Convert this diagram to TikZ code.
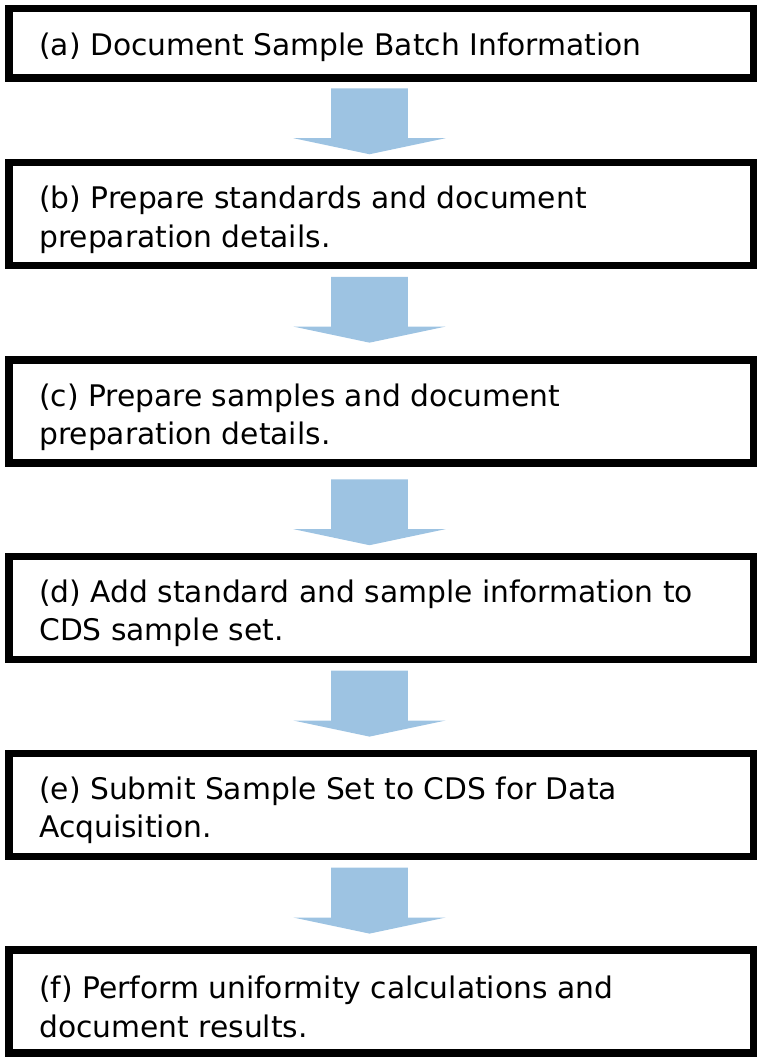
\documentclass[tikz,border=0pt]{standalone}
\usepackage{fontspec}
\setmainfont{DejaVu Sans}
\usetikzlibrary{calc}

\definecolor{arrowblue}{RGB}{157,195,226}

\tikzset{
  stepbox/.style={draw=black, line width=5.6pt, outer sep=0pt, inner sep=0pt,
    minimum width=558.6pt, minimum height=77.25pt},
  onelinebox/.style={stepbox, minimum height=51.9pt},
  steptext/.style={anchor=west, inner sep=0pt, align=left,
    font=\fontsize{22.3}{28.9}\selectfont},
  downarrow/.pic={
    \fill[arrowblue] (-38.3,0) -- (38.3,0) -- (38.3,-49.8) -- (76.2,-49.8) -- (0,-65.9) -- (-76.2,-49.8) -- (-38.3,-49.8) -- cycle;
  }
}

\begin{document}
\begin{tikzpicture}[x=0.75pt,y=0.75pt,yscale=-1,xscale=1]
\useasboundingbox (0,0) rectangle (763,1064);

% Step Boxes
\node[onelinebox] (stepA) at (381.2,43.35) {};
\node[stepbox] (stepB) at (381.2,214.15) {};
\node[stepbox] (stepC) at (381.2,411.6) {};
\node[stepbox] (stepD) at (381.2,608) {};
\node[stepbox] (stepE) at (381.2,805) {};
\node[stepbox] (stepF) at (381.2,1001.65) {};

% Text Node
\node[steptext] (textA) at ($(stepA.west)+(30.2,3.5)$) {(a) Document Sample Batch Information};
% Text Node
\node[steptext] (textB) at ($(stepB.west)+(30.2,5.5)$) {(b) Prepare standards and document\\preparation details.};
% Text Node
\node[steptext] (textC) at ($(stepC.west)+(30.2,5.5)$) {(c) Prepare samples and document\\preparation details.};
% Text Node
\node[steptext] (textD) at ($(stepD.west)+(30.2,5.5)$) {(d) Add standard and sample information to\\CDS sample set.};
% Text Node
\node[steptext] (textE) at ($(stepE.west)+(30.2,5.5)$) {(e) Submit Sample Set to CDS for Data\\Acquisition.};
% Text Node
\node[steptext] (textF) at ($(stepF.west)+(30.2,5.5)$) {(f) Perform uniformity calculations and\\document results.};

% Down Arrows
\pic at ($(stepA.south)+(-11.7,10.4)$) {downarrow};
\pic at ($(stepB.south)+(-11.7,11.1)$) {downarrow};
\pic at ($(stepC.south)+(-11.7,16.2)$) {downarrow};
\pic at ($(stepD.south)+(-11.7,11.2)$) {downarrow};
\pic at ($(stepE.south)+(-11.7,11.2)$) {downarrow};

\end{tikzpicture}
\end{document}
